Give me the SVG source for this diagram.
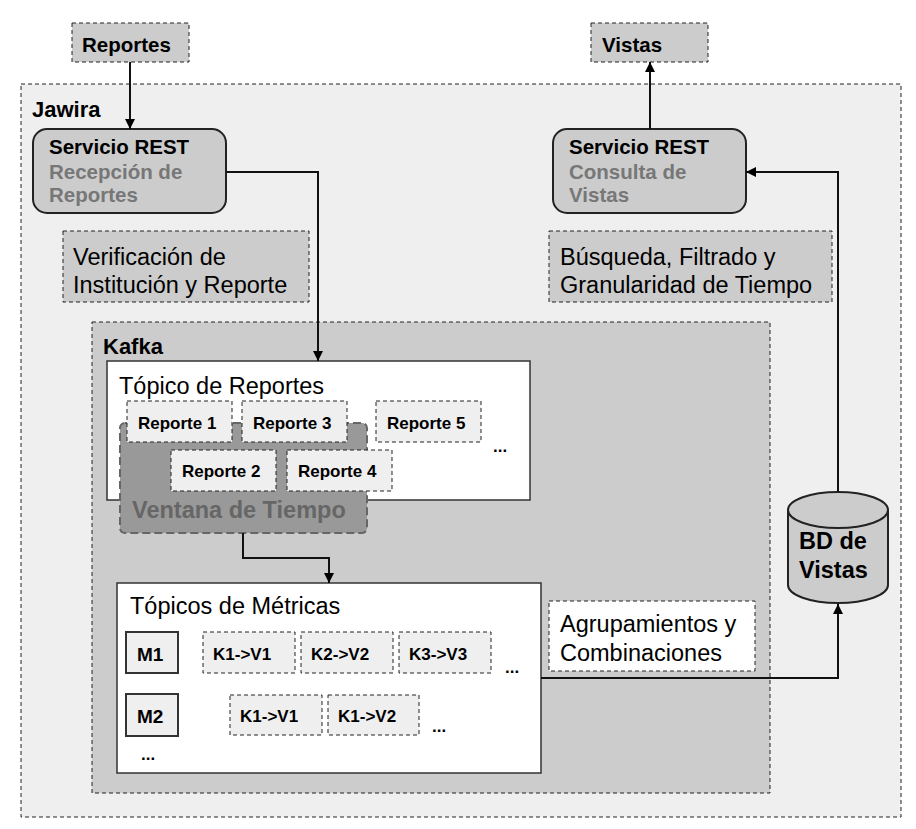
<svg xmlns="http://www.w3.org/2000/svg" width="916" height="829" viewBox="0 0 916 829">
<defs>
<marker id="ah" viewBox="0 0 10 10" refX="10" refY="5" markerWidth="10" markerHeight="10" markerUnits="userSpaceOnUse" orient="auto">
<path d="M0,0 L10,5 L0,10 z" fill="#000"/>
</marker>
<style>
text{font-family:"Liberation Sans",Arial,sans-serif;fill:#000}
.b{font-weight:bold}
.dash{stroke:#222;stroke-width:1;stroke-dasharray:4,3}
.svc{fill:#cccccc;stroke:#222;stroke-width:2}
.sub{fill:#777;font-weight:bold;font-size:20.5px}
.rep{fill:#efefef}
.conn{fill:none;stroke:#111;stroke-width:2;marker-end:url(#ah)}
</style>
</defs>
<rect width="916" height="829" fill="#fff"/>
<g id="jawira">
<rect x="21" y="84" width="880" height="733" fill="#efefef" class="dash"/>
<text x="32" y="117" class="b" font-size="22">Jawira</text>
</g>
<g id="reportes">
<rect x="72" y="23" width="117" height="39" fill="#cccccc" class="dash"/>
<text x="82" y="52" class="b" font-size="20.5">Reportes</text>
</g>
<g id="vistas">
<rect x="591" y="23" width="117" height="39" fill="#cccccc" class="dash"/>
<text x="602" y="52" class="b" font-size="20.5">Vistas</text>
</g>
<g id="rest-recepcion">
<rect x="33" y="129" width="193" height="84" rx="14" class="svc"/>
<text x="49" y="154" class="b" font-size="20.5">Servicio REST</text>
<text x="49" y="179" class="sub">Recepción de</text>
<text x="49" y="202" class="sub">Reportes</text>
</g>
<g id="rest-consulta">
<rect x="553" y="129" width="193" height="84" rx="14" class="svc"/>
<text x="569" y="154" class="b" font-size="20.5">Servicio REST</text>
<text x="569" y="179" class="sub">Consulta de</text>
<text x="569" y="202" class="sub">Vistas</text>
</g>
<g id="verificacion">
<rect x="63" y="231" width="246" height="71" fill="#cccccc" class="dash"/>
<text x="73" y="265" font-size="23.5">Verificación de</text>
<text x="73" y="293" font-size="23.5">Institución y Reporte</text>
</g>
<g id="busqueda">
<rect x="549" y="231" width="283" height="71" fill="#cccccc" class="dash"/>
<text x="560" y="265" font-size="23.5">Búsqueda, Filtrado y</text>
<text x="560" y="293" font-size="23.5">Granularidad de Tiempo</text>
</g>
<g id="kafka">
<rect x="92" y="322" width="678" height="471" fill="#cccccc" class="dash"/>
<text x="103" y="354" class="b" font-size="22">Kafka</text>
</g>
<g id="topico-reportes">
<rect x="107" y="361" width="423" height="139" fill="#fff" stroke="#333" stroke-width="1.5"/>
<text x="119" y="394" font-size="23.5">Tópico de Reportes</text>
</g>
<g id="ventana">
<rect x="120" y="423" width="247" height="110" rx="5" fill="#999999" stroke="#666" stroke-width="2" stroke-dasharray="8,4"/>
<text x="132" y="518" class="b" font-size="23.5" fill="#666" style="fill:#666">Ventana de Tiempo</text>
</g>
<g id="reporte1"><rect x="127" y="401" width="105" height="41" class="rep dash"/><text x="138" y="429" class="b" font-size="17">Reporte 1</text></g>
<g id="reporte3"><rect x="242" y="401" width="105" height="41" class="rep dash"/><text x="253" y="429" class="b" font-size="17">Reporte 3</text></g>
<g id="reporte5"><rect x="376" y="401" width="105" height="41" class="rep dash"/><text x="387" y="429" class="b" font-size="17">Reporte 5</text></g>
<g id="reporte2"><rect x="171" y="450" width="105" height="41" class="rep dash"/><text x="182" y="477" class="b" font-size="17">Reporte 2</text></g>
<g id="reporte4"><rect x="287" y="450" width="105" height="41" class="rep dash"/><text x="298" y="477" class="b" font-size="17">Reporte 4</text></g>
<text x="493" y="452" class="b" font-size="17">...</text>
<g id="topicos-metricas">
<rect x="117" y="583" width="424" height="190" fill="#fff" stroke="#333" stroke-width="1.5"/>
<text x="130" y="614" font-size="23.5">Tópicos de Métricas</text>
</g>
<g id="m1"><rect x="126" y="632" width="52" height="41" fill="#efefef" stroke="#333" stroke-width="2"/><text x="137" y="661" class="b" font-size="19">M1</text></g>
<g id="m2"><rect x="126" y="694" width="52" height="42" fill="#efefef" stroke="#333" stroke-width="2"/><text x="137" y="723" class="b" font-size="19">M2</text></g>
<text x="141" y="760" class="b" font-size="17">...</text>
<g id="m1-k1"><rect x="203" y="632" width="92" height="41" class="rep dash"/><text x="213" y="660" class="b" font-size="17">K1-&gt;V1</text></g>
<g id="m1-k2"><rect x="301" y="632" width="92" height="41" class="rep dash"/><text x="311" y="660" class="b" font-size="17">K2-&gt;V2</text></g>
<g id="m1-k3"><rect x="399" y="632" width="92" height="41" class="rep dash"/><text x="409" y="660" class="b" font-size="17">K3-&gt;V3</text></g>
<text x="505" y="673" class="b" font-size="17">...</text>
<g id="m2-k1"><rect x="230" y="695" width="92" height="40" class="rep dash"/><text x="240" y="722" class="b" font-size="17">K1-&gt;V1</text></g>
<g id="m2-k2"><rect x="328" y="695" width="91" height="40" class="rep dash"/><text x="338" y="722" class="b" font-size="17">K1-&gt;V2</text></g>
<text x="432" y="732" class="b" font-size="17">...</text>
<g id="agrupamientos">
<rect x="549" y="601" width="206" height="70" fill="#fff" class="dash"/>
<text x="560" y="632" font-size="23.5">Agrupamientos y</text>
<text x="560" y="661" font-size="23.5">Combinaciones</text>
</g>
<g id="bd-vistas">
<path d="M788,510 L788,585 A50,18 0 0 0 888,585 L888,510 A50,18 0 0 0 788,510 Z" fill="#cccccc" stroke="#222" stroke-width="2"/>
<path d="M788,510 A50,18 0 0 0 888,510" fill="none" stroke="#222" stroke-width="2"/>
<text x="799" y="549" class="b" font-size="23.5">BD de</text>
<text x="799" y="578" class="b" font-size="23.5">Vistas</text>
</g>
<g id="connectors">
<path d="M130,62 L130,129" class="conn"/>
<path d="M226,172 L318,172 L318,361" class="conn"/>
<path d="M650,129 L650,62" class="conn"/>
<path d="M838,492 L838,172 L746,172" class="conn"/>
<path d="M243,533 L243,558 L329,558 L329,583" class="conn"/>
<path d="M541,678 L838,678 L838,604" class="conn"/>
</g>
</svg>
